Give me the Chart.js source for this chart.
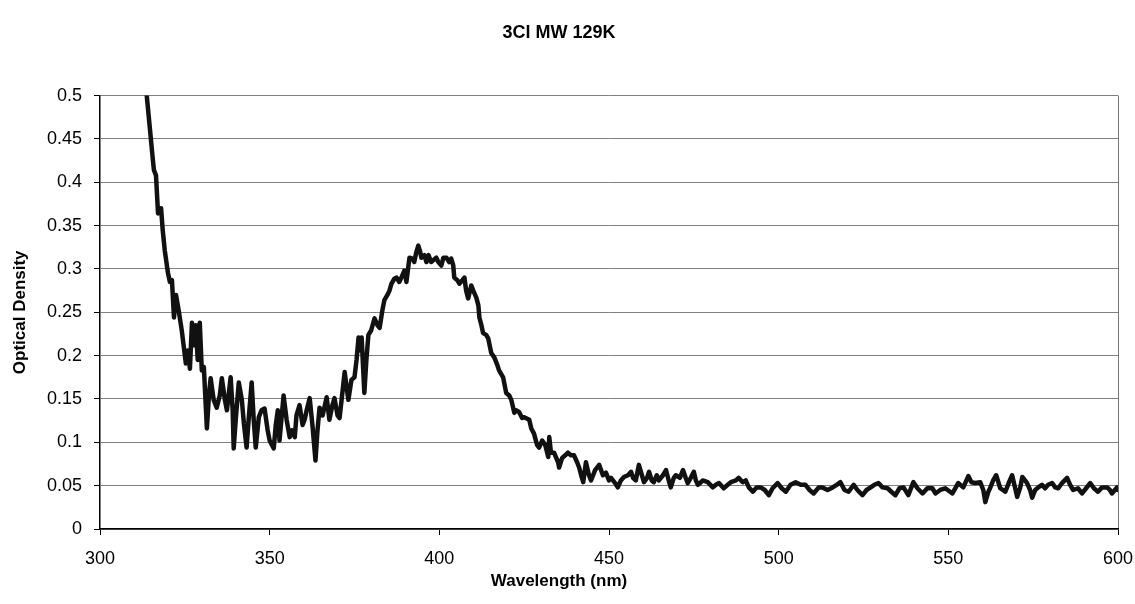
<!DOCTYPE html>
<html>
<head>
<meta charset="utf-8">
<script src="https://cdn.jsdelivr.net/npm/chart.js@4"></script>
<style>
  html, body { margin: 0; padding: 0; background: #fff; }
  #wrap { width: 1135px; height: 604px; }
</style>
</head>
<body>
<div id="wrap"><canvas id="chart-1"></canvas></div>
<script>
// wavelength (nm)
var wavelength = [
  313.0, 313.8, 315.6, 315.9, 316.5, 317.1, 318.0, 318.5, 319.1, 320.0, 320.6, 321.2, 321.8, 322.4, 323.2, 324.1,
  325.3, 325.9, 326.5, 327.1, 327.6, 328.2, 328.8, 329.4, 330.0, 330.6, 331.5, 332.1, 332.6, 333.5, 334.4, 335.3,
  335.9, 336.8, 337.4, 337.9, 338.5, 339.1, 339.4, 340.0, 340.9, 341.8, 342.4, 343.2, 343.8, 344.7, 345.3, 345.9,
  346.8, 347.6, 348.5, 349.4, 350.0, 351.2, 351.8, 352.4, 352.9, 354.1, 355.0, 355.9, 356.5, 357.4, 357.9, 358.8,
  359.7, 360.3, 360.9, 361.8, 362.6, 363.5, 364.1, 364.7, 365.6, 366.8, 367.6, 368.5, 369.1, 370.0, 370.6, 371.2,
  372.1, 372.6, 373.2, 374.1, 375.0, 375.6, 376.2, 376.8, 377.1, 377.9, 378.5, 379.1, 379.9, 380.9, 381.8, 382.4,
  383.2, 383.8, 384.7, 385.3, 385.9, 386.8, 387.4, 388.2, 388.8, 389.7, 390.3, 390.9, 391.2, 392.1, 392.6, 393.2,
  393.8, 394.4, 394.7, 395.6, 396.2, 396.8, 397.6, 398.2, 399.1, 399.7, 400.6, 401.2, 402.1, 402.9, 403.5, 404.1,
  404.4, 405.3, 405.9, 406.8, 407.4, 407.9, 408.5, 409.4, 410.0, 410.9, 411.5, 411.8, 412.4, 412.9, 413.8, 414.4,
  415.3, 416.2, 417.1, 417.6, 418.8, 419.7, 420.6, 421.2, 422.1, 422.6, 423.5, 424.4, 425.0, 426.5, 427.1, 427.9,
  428.8, 429.4, 430.3, 431.2, 432.1, 432.4, 432.9, 433.8, 435.0, 435.3, 436.2, 437.1, 437.9, 438.8, 439.7, 440.6,
  441.2, 441.8, 442.4, 443.2, 444.1, 444.7, 445.9, 447.1, 448.2, 449.1, 450.0, 450.6, 451.8, 452.6, 453.5, 454.4,
  455.6, 456.5, 457.1, 457.9, 458.8, 459.7, 460.3, 461.2, 461.8, 462.6, 463.2, 464.1, 464.7, 465.9, 466.8, 467.6,
  468.2, 469.1, 469.7, 470.9, 471.8, 472.6, 473.2, 474.1, 475.0, 475.6, 476.2, 477.1, 477.6, 479.1, 480.6, 481.5,
  482.4, 483.8, 485.0, 485.9, 487.4, 488.2, 489.4, 490.3, 491.2, 492.4, 493.5, 494.7, 495.9, 497.1, 498.2, 499.7,
  500.9, 502.1, 503.5, 505.0, 506.5, 507.9, 509.1, 510.3, 511.8, 512.9, 514.4, 515.9, 517.1, 518.2, 519.4, 520.6,
  522.1, 523.2, 524.7, 525.9, 527.1, 528.2, 529.4, 530.6, 532.1, 533.2, 534.4, 535.6, 536.8, 538.2, 539.7, 540.9,
  542.4, 543.8, 545.3, 546.2, 547.6, 549.1, 551.2, 552.9, 554.4, 555.9, 556.8, 557.9, 559.4, 560.3, 560.9, 561.8,
  562.4, 563.2, 564.1, 565.3, 566.8, 567.9, 568.8, 569.7, 570.3, 571.2, 571.8, 572.6, 573.2, 574.1, 574.7, 575.6,
  576.5, 577.6, 578.5, 579.4, 580.6, 581.5, 582.4, 583.5, 585.0, 585.9, 586.8, 588.2, 589.4, 590.6, 591.8, 592.9,
  594.1, 595.3, 596.8, 597.6, 598.2, 599.7, 600.0
];

// optical density, same order
var density = [
  0.520, 0.499, 0.425, 0.414, 0.408, 0.364, 0.370, 0.344, 0.321, 0.296, 0.285, 0.287, 0.244, 0.270, 0.252, 0.229,
  0.191, 0.206, 0.185, 0.238, 0.212, 0.235, 0.195, 0.238, 0.183, 0.187, 0.116, 0.154, 0.174, 0.149, 0.140, 0.154,
  0.174, 0.149, 0.137, 0.154, 0.175, 0.137, 0.093, 0.126, 0.169, 0.149, 0.122, 0.094, 0.126, 0.169, 0.126, 0.094,
  0.129, 0.137, 0.139, 0.114, 0.102, 0.093, 0.120, 0.137, 0.102, 0.154, 0.126, 0.106, 0.114, 0.106, 0.131, 0.143,
  0.120, 0.126, 0.137, 0.151, 0.120, 0.079, 0.114, 0.140, 0.131, 0.152, 0.126, 0.143, 0.151, 0.131, 0.128, 0.149,
  0.181, 0.166, 0.149, 0.172, 0.175, 0.195, 0.221, 0.206, 0.221, 0.157, 0.195, 0.224, 0.229, 0.243, 0.235, 0.232,
  0.252, 0.264, 0.270, 0.275, 0.283, 0.289, 0.290, 0.285, 0.290, 0.298, 0.285, 0.304, 0.313, 0.312, 0.308, 0.319,
  0.327, 0.319, 0.313, 0.316, 0.308, 0.316, 0.308, 0.310, 0.313, 0.308, 0.304, 0.313, 0.313, 0.308, 0.312, 0.304,
  0.290, 0.287, 0.283, 0.287, 0.290, 0.275, 0.266, 0.281, 0.275, 0.267, 0.258, 0.244, 0.235, 0.226, 0.224, 0.220,
  0.203, 0.198, 0.189, 0.183, 0.175, 0.157, 0.154, 0.149, 0.134, 0.137, 0.135, 0.128, 0.129, 0.126, 0.116, 0.110,
  0.097, 0.094, 0.102, 0.097, 0.083, 0.106, 0.088, 0.088, 0.077, 0.071, 0.082, 0.085, 0.088, 0.085, 0.085, 0.077,
  0.071, 0.062, 0.054, 0.077, 0.062, 0.056, 0.068, 0.074, 0.062, 0.065, 0.056, 0.059, 0.053, 0.048, 0.056, 0.060,
  0.062, 0.066, 0.059, 0.056, 0.074, 0.062, 0.054, 0.059, 0.066, 0.056, 0.054, 0.062, 0.056, 0.062, 0.068, 0.056,
  0.048, 0.059, 0.062, 0.059, 0.068, 0.059, 0.053, 0.059, 0.066, 0.056, 0.051, 0.054, 0.056, 0.054, 0.048, 0.051,
  0.053, 0.047, 0.051, 0.054, 0.056, 0.059, 0.054, 0.056, 0.048, 0.043, 0.048, 0.048, 0.045, 0.039, 0.047, 0.053,
  0.047, 0.043, 0.051, 0.054, 0.051, 0.051, 0.045, 0.041, 0.048, 0.048, 0.045, 0.048, 0.051, 0.054, 0.045, 0.043,
  0.051, 0.045, 0.039, 0.045, 0.048, 0.051, 0.053, 0.048, 0.047, 0.043, 0.039, 0.047, 0.048, 0.039, 0.054, 0.047,
  0.041, 0.047, 0.047, 0.041, 0.045, 0.047, 0.041, 0.053, 0.048, 0.061, 0.054, 0.053, 0.054, 0.045, 0.031, 0.043,
  0.048, 0.056, 0.062, 0.047, 0.043, 0.054, 0.062, 0.047, 0.037, 0.048, 0.060, 0.056, 0.053, 0.045, 0.036, 0.045,
  0.048, 0.051, 0.047, 0.051, 0.053, 0.048, 0.047, 0.053, 0.059, 0.051, 0.045, 0.047, 0.041, 0.047, 0.053, 0.047,
  0.043, 0.048, 0.048, 0.045, 0.041, 0.048, 0.045
];

var x_ticks = [300, 350, 400, 450, 500, 550, 600];
var y_ticks = [0, 0.05, 0.1, 0.15, 0.2, 0.25, 0.3, 0.35, 0.4, 0.45, 0.5];

var points = [];
for (let i = 0; i < wavelength.length; i++) {
    points.push({ x: wavelength[i], y: density[i] });
}

Chart.defaults.font.family = "'Liberation Sans', Arial, sans-serif";
Chart.defaults.color = '#000';

const ctx = document.getElementById("chart-1").getContext("2d");
const myChart = new Chart(ctx, {
    type: "line",
    data: {
        datasets: [{
            label: "3Cl MW 129K",
            data: points,
            borderColor: '#111',
            backgroundColor: '#111',
            borderWidth: 4.5,
            borderJoinStyle: 'round',
            borderCapStyle: 'round',
            pointRadius: 0,
            tension: 0,
        }],
    },
    options: {
        responsive: true,
        maintainAspectRatio: false,
        animation: false,
        layout: {
            padding: { left: 0, right: 17, top: 0, bottom: 0 }
        },
        plugins: {
            legend: { display: false },
            tooltip: { enabled: false },
            title: {
                display: true,
                text: "3Cl MW 129K",
                font: { size: 18, weight: 'bold' },
                color: '#000',
                padding: { top: 22, bottom: 52 },
            },
            // axis title for x, centred on the whole picture like the original
            subtitle: {
                display: true,
                position: 'bottom',
                text: "Wavelength (nm)",
                font: { size: 17, weight: 'bold' },
                color: '#000',
                padding: { top: 6, bottom: 12 },
            },
        },
        scales: {
            x: {
                type: 'linear',
                min: 300,
                max: 600,
                afterBuildTicks: (scale) => { scale.ticks = x_ticks.map(v => ({ value: v })); },
                afterFit: (scale) => {
                    scale.height = 36.6;
                    scale.paddingRight = 0;
                    scale.paddingLeft = 0;
                },
                ticks: {
                    font: { size: 18 },
                    color: '#000',
                    padding: 13,
                    maxRotation: 0,
                },
                grid: {
                    drawOnChartArea: true,
                    color: (c) => (c.tick && c.tick.value === 600) ? '#777' : 'rgba(0,0,0,0)',
                    tickColor: '#000',
                    tickLength: 6,
                },
                border: { color: '#000', width: 1.5 },
            },
            y: {
                min: 0,
                max: 0.5,
                afterBuildTicks: (scale) => { scale.ticks = y_ticks.map(v => ({ value: v })); },
                afterFit: (scale) => { scale.width = 100; },
                ticks: {
                    font: { size: 18 },
                    color: '#000',
                    padding: 12,
                    callback: (v) => String(Number(v.toFixed(2))),
                },
                grid: {
                    color: '#808080',
                    lineWidth: 1,
                    tickColor: '#000',
                    tickLength: 6,
                },
                border: { color: '#000', width: 1.5 },
                title: {
                    display: true,
                    text: "Optical Density",
                    font: { size: 17, weight: 'bold' },
                    color: '#000',
                    padding: { top: 10, bottom: 0 },
                },
            },
        },
    },
});
</script>
</body>
</html>
